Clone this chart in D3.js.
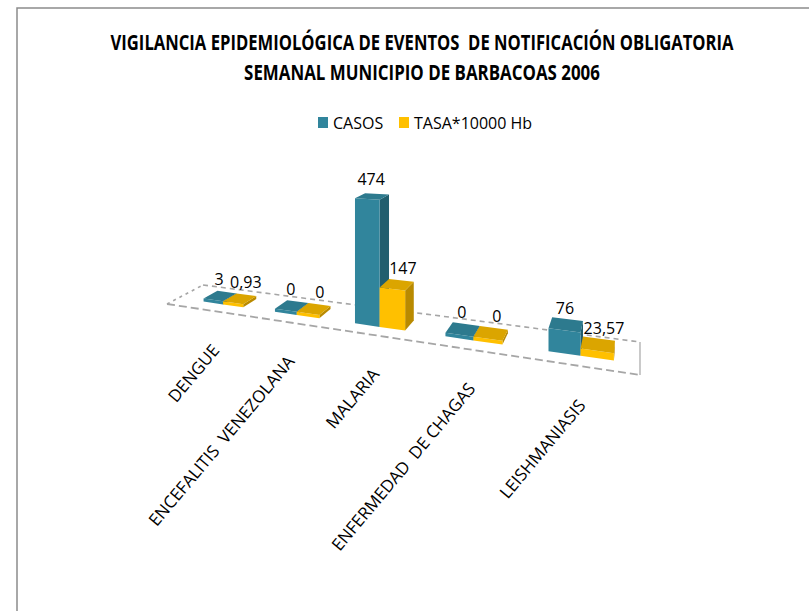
<!DOCTYPE html>
<html><head><meta charset="utf-8">
<script src="https://cdn.jsdelivr.net/npm/d3@7"></script>
<style>body{margin:0;background:#fff} svg{display:block}</style>
</head><body><svg id="chart" width="809" height="611"></svg>
<script>
// ---- data ----
const categories = ["DENGUE", "ENCEFALITIS  VENEZOLANA", "MALARIA", "ENFERMEDAD  DE CHAGAS", "LEISHMANIASIS"];
const seriesNames = ["CASOS", "TASA*10000 Hb"];
const casos = [3, 0, 474, 0, 76];
const tasa = [0.93, 0, 147, 0, 23.57];
const titleLines = ["VIGILANCIA EPIDEMIOLÓGICA DE EVENTOS  DE NOTIFICACIÓN OBLIGATORIA", "SEMANAL MUNICIPIO DE BARBACOAS 2006"];

// ---- styles ----
const colors = {
  "CASOS": {front: "#31859c", side: "#215e6e", top: "#2d7a8e", legend: "#31859c", dx: -1},
  "TASA*10000 Hb": {front: "#ffc000", side: "#b98a00", top: "#dba500", legend: "#ffc000", dx: 6}
};
const font = "'Open Sans', 'DejaVu Sans', sans-serif";
const fmt = v => String(v).replace(".", ",");

const svg = d3.select("#chart");

// chart border (left + top)
svg.append("path").attr("d", "M17,611 L17,8 L809,8")
  .attr("fill", "none").attr("stroke", "#8c8c8c").attr("stroke-width", 1.5);

// title (condensed horizontally to the reference widths)
const titleSpec = [{cx: 422, y: 50, w: 623}, {cx: 422, y: 80, w: 356}];
const title = svg.append("g").attr("font-family", font).attr("font-weight", "bold").attr("fill", "#000");
titleLines.forEach((t, i) => {
  const g = title.append("g");
  const txt = g.append("text").attr("font-size", 22).attr("text-anchor", "middle")
    .style("white-space", "pre").text(t);
  const natural = txt.node().getComputedTextLength();
  const k = titleSpec[i].w / natural;
  g.attr("transform", `translate(${titleSpec[i].cx},${titleSpec[i].y}) scale(${k},1)`);
});

// legend
const legendX = [318, 399];
const legend = svg.append("g").attr("font-family", font).attr("font-size", 16);
seriesNames.forEach((s, i) => {
  legend.append("rect").attr("x", legendX[i]).attr("y", 117).attr("width", 10).attr("height", 11)
    .attr("fill", colors[s].legend);
  legend.append("text").attr("x", legendX[i] + 15).attr("y", 128.5).attr("fill", "#000").text(s);
});

// ---- perspective floor (homography from unit square to floor quad) ----
const floorQuad = [[167, 304], [640, 375], [640, 342], [203, 285]]; // (u,v): (0,0),(1,0),(1,1),(0,1)
function squareToQuad(q) {
  const [x0, y0] = q[0], [x1, y1] = q[1], [x2, y2] = q[2], [x3, y3] = q[3];
  const dx1 = x1 - x2, dx2 = x3 - x2, dx3 = x0 - x1 + x2 - x3;
  const dy1 = y1 - y2, dy2 = y3 - y2, dy3 = y0 - y1 + y2 - y3;
  const den = dx1 * dy2 - dx2 * dy1;
  const g = (dx3 * dy2 - dx2 * dy3) / den, h = (dx1 * dy3 - dx3 * dy1) / den;
  const a = x1 - x0 + g * x1, b = x3 - x0 + h * x3, c = x0;
  const d = y1 - y0 + g * y1, e = y3 - y0 + h * y3, f = y0;
  return (u, v) => { const w = g * u + h * v + 1; return [(a * u + b * v + c) / w, (d * u + e * v + f) / w, w]; };
}
const H = squareToQuad(floorQuad);
function project(u, v, hgt) { const [x, y, w] = H(u, v); return [x, y - hgt / w]; }

// scales
const xCat = d3.scaleBand().domain(categories).range([0.032, 1]).paddingInner(0.43).paddingOuter(0.215);
const xSer = d3.scaleBand().domain(seriesNames).range([0, xCat.bandwidth()]);
const yScale = d3.scaleLinear().domain([0, 500]).range([0, 118]);
const depth = [0.3, 0.7];

// floor outline
const floorG = svg.append("g").attr("fill", "none").attr("stroke", "#a6a6a6");
const line = d3.line();
const edge = (pts, dash, sw) => floorG.append("path").attr("d", line(pts.map(p => project(p[0], p[1], 0))))
  .attr("stroke-dasharray", dash).attr("stroke-width", sw);
edge([[0, 1], [1, 1]], "5,4", 1.6);
edge([[0, 0], [0, 1]], "3,4", 1.6);
edge([[0, 0], [1, 0]], "8,4", 1.8);
edge([[1, 0], [1, 1]], null, 1.2);

// bars
const bars = [];
categories.forEach((c, i) => {
  seriesNames.forEach((s, j) => {
    const val = (j === 0 ? casos : tasa)[i];
    const u0 = xCat(c) + xSer(s), u1 = u0 + xSer.bandwidth();
    bars.push({c, s, val, u0, u1, h: Math.max(yScale(val), 3)});
  });
});
const poly = pts => "M" + pts.map(p => p.join(",")).join("L") + "Z";
const barG = svg.append("g");
bars.forEach(b => {
  const [v0, v1] = depth;
  const g = barG.append("g");
  g.append("path").attr("fill", colors[b.s].side)
    .attr("d", poly([project(b.u1, v0, 0), project(b.u1, v1, 0), project(b.u1, v1, b.h), project(b.u1, v0, b.h)]));
  g.append("path").attr("fill", colors[b.s].front)
    .attr("d", poly([project(b.u0, v0, 0), project(b.u1, v0, 0), project(b.u1, v0, b.h), project(b.u0, v0, b.h)]));
  g.append("path").attr("fill", colors[b.s].top)
    .attr("d", poly([project(b.u0, v0, b.h), project(b.u1, v0, b.h), project(b.u1, v1, b.h), project(b.u0, v1, b.h)]));
});

// data labels
const lblG = svg.append("g").attr("font-family", font).attr("font-size", 16).attr("fill", "#000").attr("text-anchor", "middle");
bars.forEach(b => {
  const [x, y] = project((b.u0 + b.u1) / 2, 0.5, b.h);
  lblG.append("text").attr("x", x + colors[b.s].dx).attr("y", y - 11).text(fmt(b.val));
});

// category labels
const catG = svg.append("g").attr("font-family", font).attr("font-size", 17).attr("fill", "#000").attr("text-anchor", "end");
categories.forEach(c => {
  const [x, y] = project(xCat(c) + xCat.bandwidth() / 2, 0, 0);
  catG.append("text").attr("transform", `translate(${x + 8},${y + 40}) rotate(-50)`)
    .style("white-space", "pre").text(c);
});
</script></body></html>
